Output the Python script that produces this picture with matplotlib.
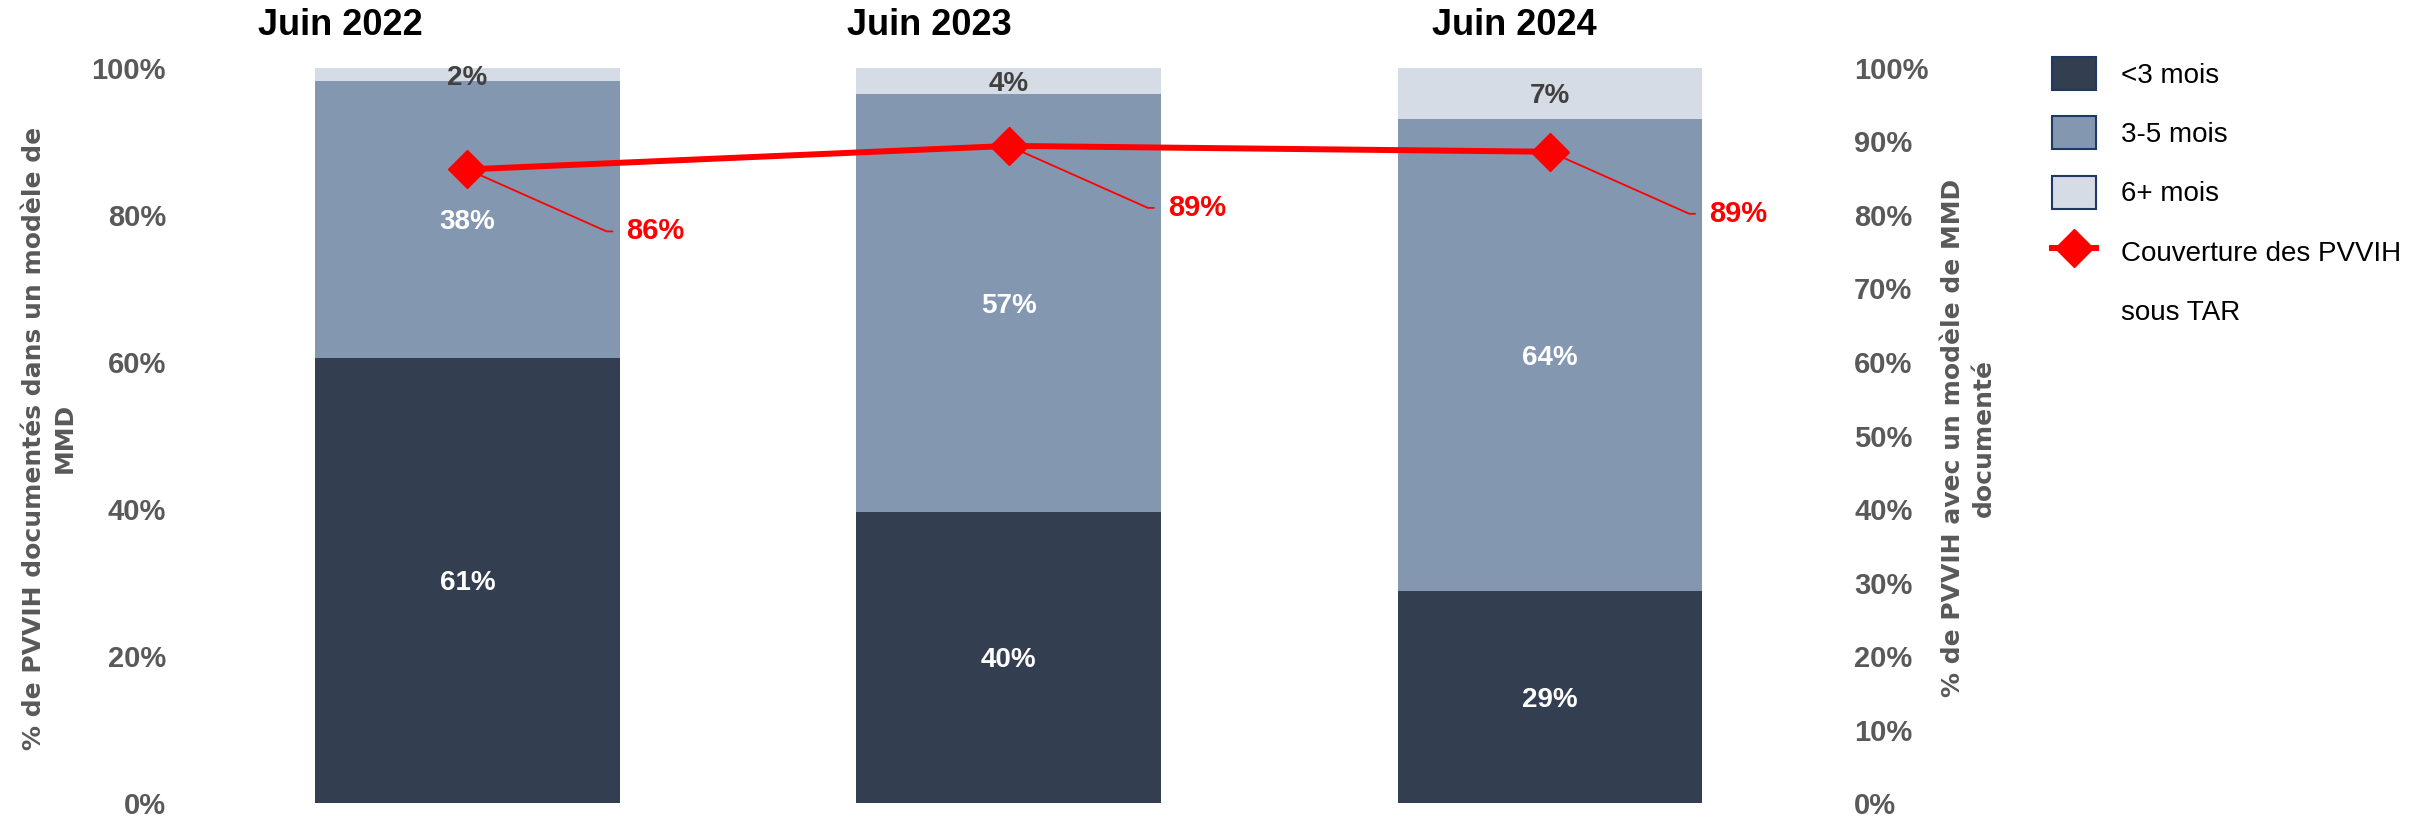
import matplotlib
matplotlib.use("Agg")
from matplotlib import pyplot as plt
from matplotlib.patches import Patch
from matplotlib.lines import Line2D
import numpy as np

# data
periods = ["Juin 2022", "Juin 2023", "Juin 2024"]
moins3 = [0.606, 0.396, 0.289]      # <3 mois
mois3_5 = [0.376, 0.568, 0.642]     # 3-5 mois
mois6 = [0.018, 0.036, 0.069]       # 6+ mois
couverture = [0.862, 0.894, 0.886]  # couverture des PVVIH sous TAR

series_names = ["<3 mois", "3-5 mois", "6+ mois"]
line_name = ["Couverture des PVVIH", "sous TAR"]  # wraps onto two legend rows

# the period titles are not centred on the bars in the original
TITLE_SHIFT = [-0.235, -0.146, -0.065]

C_DARK = "#333F50"
C_MID = "#8497B0"
C_LIGHT = "#D6DCE5"
C_RED = "#FF0000"
C_GREY = "#595959"
C_EDGE = "#1F3864"

plt.rcParams['font.family'] = ["Liberation Sans", "DejaVu Sans"]

fig = plt.figure(figsize=(24.12, 8.19), dpi=100)
ax = fig.add_axes([0.0746, 0.0195, 0.6883, 0.8975])
ax2 = ax.twinx()

x = np.arange(len(periods))
w = 0.5625
bottoms = np.zeros(len(periods))
seg_colors = [C_DARK, C_MID, C_LIGHT]
lab_colors = ["white", "white", "#404040"]
for vals, col, lcol in zip([moins3, mois3_5, mois6], seg_colors, lab_colors):
    vals = np.array(vals)
    ax.bar(x, vals, w, bottom=bottoms, color=col, edgecolor="none", zorder=1)
    for xi, b, v in zip(x, bottoms, vals):
        ax.text(xi, b + v / 2, "%d%%" % round(v * 100), ha="center",
                va="center_baseline", color=lcol, fontsize=20,
                fontweight="bold", zorder=3)
    bottoms += vals

ax.set_xlim(-0.531, 2.536)
ax.set_ylim(0, 1)
ax.set_yticks(np.arange(0, 1.01, 0.2))
ax.set_yticklabels(["%d%%" % round(t * 100) for t in np.arange(0, 1.01, 0.2)])
ax.set_xticks([])

ax2.set_ylim(0, 1)
ax2.set_yticks(np.arange(0, 1.01, 0.1))
ax2.set_yticklabels(["%d%%" % round(t * 100) for t in np.arange(0, 1.01, 0.1)])

for a in (ax, ax2):
    for s in a.spines.values():
        s.set_visible(False)
    a.tick_params(axis="y", length=0, labelsize=21, labelcolor=C_GREY, pad=10)
    for lab in a.get_yticklabels():
        lab.set_fontweight("bold")

# coverage line
ax2.plot(x, couverture, color=C_RED, lw=4.3, marker="D", markersize=19,
         zorder=5)
for xi, v in zip(x, couverture):
    ax2.annotate("%d%%" % round(v * 100), xy=(xi, v), xytext=(159, -62),
                 textcoords="offset pixels", ha="left", va="center",
                 color=C_RED, fontsize=21, fontweight="bold",
                 arrowprops=dict(arrowstyle="-", color=C_RED, lw=1.3,
                                 shrinkA=8, shrinkB=0, relpos=(0, 0.5),
                                 connectionstyle="angle,angleA=0,angleB=-24"))

# period titles
for xi, dx, p in zip(x, TITLE_SHIFT, periods):
    ax.text(xi + dx, 1.0575, p, transform=ax.get_xaxis_transform(), ha="center",
            va="center", fontsize=26, fontweight="bold", color="black")

# axis titles
fig.text(0.0205, 0.465, "% de PVVIH documentés dans un modèle de\nMMD",
         rotation=90, ha="center", va="center", fontsize=18,
         fontweight="bold", color=C_GREY, family="DejaVu Sans",
         linespacing=1.35)
fig.text(0.816, 0.465, "% de PVVIH avec un modèle de MMD\ndocumenté",
         rotation=90, ha="center", va="center", fontsize=18,
         fontweight="bold", color=C_GREY, family="DejaVu Sans",
         linespacing=1.35)

handles = [Patch(facecolor=c, edgecolor=C_EDGE, lw=1.5) for c in seg_colors]
handles.append(Line2D([], [], color=C_RED, lw=4.3, marker="D", markersize=19))
handles.append(Line2D([], [], linestyle="none"))
fig.legend(handles, series_names + line_name, loc="upper left",
           bbox_to_anchor=(0.846, 0.944), frameon=False, fontsize=20,
           handlelength=1.6, handleheight=1.45, labelspacing=0.95,
           handletextpad=0.9, borderaxespad=0)

fig.savefig("out.png", dpi=100)
